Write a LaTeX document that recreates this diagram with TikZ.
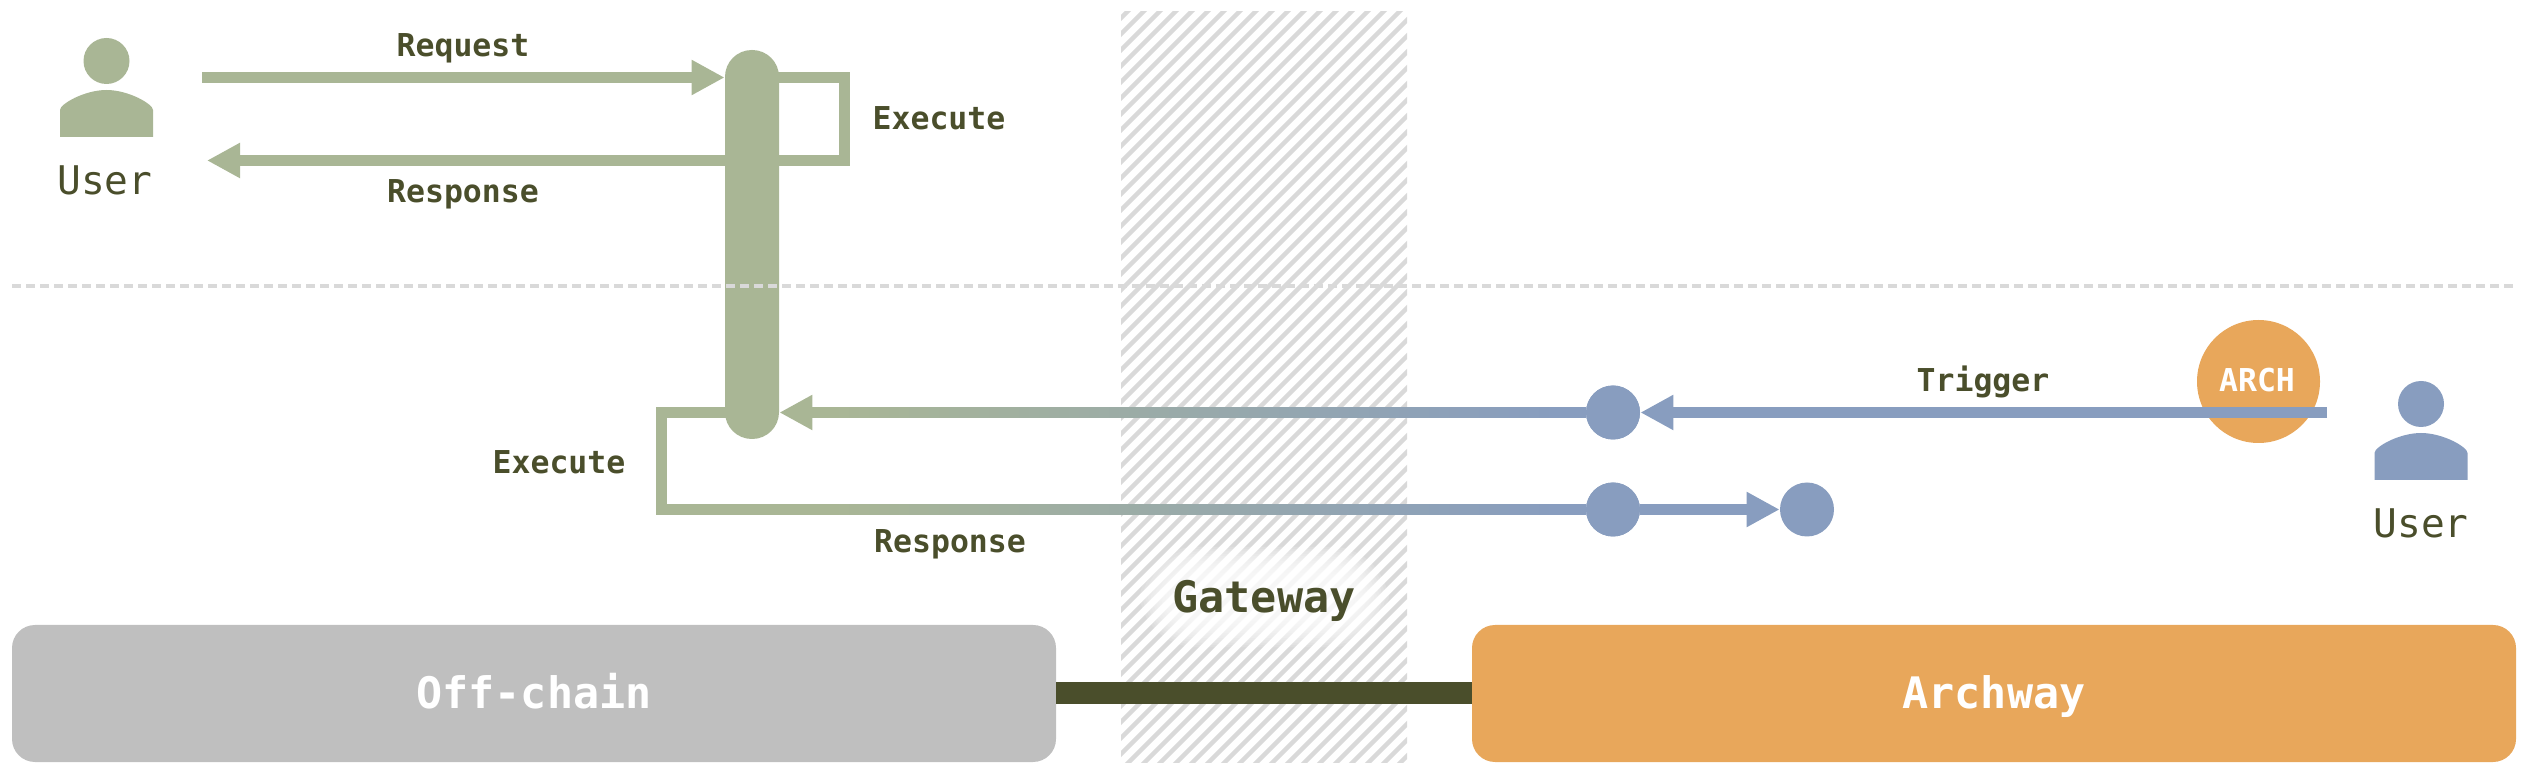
\documentclass[tikz,border=0pt]{standalone}
\usepackage{fontspec}
\setmainfont{DejaVu Sans Mono}
\usetikzlibrary{arrows.meta,calc}
\definecolor{grn}{HTML}{A9B695}
\definecolor{blu}{HTML}{889DBF}
\definecolor{org}{HTML}{E8A75B}
\definecolor{gry}{HTML}{BFBFBF}
\definecolor{lgry}{HTML}{D9D9D9}
\definecolor{dark}{HTML}{4A4E2B}
\tikzset{
  x=0.5pt,y=-0.5pt,
  lbl/.style={anchor=base,inner sep=0pt,text=dark,font=\fontsize{15.75}{18}\selectfont\bfseries},
  userlbl/.style={anchor=base,inner sep=0pt,text=dark,font=\fontsize{19.75}{22}\selectfont},
  biglbl/.style={anchor=base,inner sep=0pt,font=\fontsize{21.7}{24}\selectfont\bfseries},
  block/.style={rectangle,rounded corners=11.5pt,minimum width=522pt,minimum height=68.5pt,inner sep=0pt},
  conn/.style={line width=5.5pt,line join=miter,-{Triangle[length=16.5pt,width=16.5pt]}},
  wire/.style={line width=5.5pt,line join=miter},
  dot/.style={circle,fill=blu,minimum size=27pt,inner sep=0pt},
  person/.pic={
    \fill[pic actions] (0,-46) ellipse [x radius=23,y radius=23];
    \fill[pic actions] (-46.5,30) -- (-46.5,3) .. controls (-46.5,-3) and (-22,-17) .. (0,-17)
       .. controls (22,-17) and (46.5,-3) .. (46.5,3) -- (46.5,30) -- cycle;
  }
}
\begin{document}
\begin{tikzpicture}
\useasboundingbox (0,0) rectangle (2528,774);
% gateway hatch
\begin{scope}
  \clip (1121,12) rectangle (1407,762);
  \foreach \k in {0,...,65} {
    \draw[lgry,line width=2.2pt] ({1121+16*\k+2},0) -- ({1121+16*\k+2-800},800);
  }
\end{scope}
% glow
\foreach \g in {0,1,...,11} {
  \fill[white,opacity=0.15,rounded corners={(16+\g*1.2)*1pt}]
    ({1264-92-\g*3},{597-24-\g*2.4}) rectangle ({1264+92+\g*3},{597+24+\g*2.4});
}
% blocks
\node[block,fill=gry] (off) at (534,693.5) {};
\node[block,fill=org] (arch) at (1994,693.5) {};
\draw[dark,line width=11pt] (off.east) -- (arch.west);
\node[biglbl,text=white] (offt) at (534,708.5) {Off-chain};
\node[biglbl,text=white] (archt) at (1994,708.5) {Archway};
\node[biglbl,text=dark] (gate) at (1264,613) {Gateway};
% coin
\node[circle,fill=org,minimum size=61.5pt,inner sep=0pt] (coin) at (2258.5,381.5) {};
\node[lbl,text=white] (coint) at (2257,392) {ARCH};
% pillar
\node[rectangle,fill=grn,rounded corners=13.4pt,minimum width=27pt,minimum height=194.5pt,inner sep=0pt] (pillar) at (752,244.5) {};
% dashed divider
\draw[lgry,line width=2pt,dash pattern=on 4.6pt off 2.4pt] (12,286) coordinate (divL) -- (2516,286) coordinate (divR);
% dots
\node[dot] (d1) at (1613,412.5) {};
\node[dot] (d2) at (1613,509.5) {};
\node[dot] (d3) at (1807,509.5) {};
% users
\pic[fill=grn] (ul) at (106.5,107) {person};
\pic[fill=blu] (ur) at (2421,450) {person};
\coordinate (reqS) at (202,77.5);
\coordinate (respE) at (207,160.5);
\coordinate (trigS) at (2327,412.5);
% top connectors
\draw[conn,grn] (reqS) -- (reqS -| pillar.west);
\draw[conn,grn] (pillar.center |- reqS) -- (844,77.5) -- (844,160.5) -- (respE);
% trigger
\draw[conn,blu] (trigS) -- (d1.east);
% lower gradient connectors
\coordinate (g1) at (830,412.5);
\coordinate (g2) at (1560,412.5);
\coordinate (g3) at (830,509.5);
\coordinate (g4) at (1560,509.5);
\draw[conn,grn] (g1) -- (g1 -| pillar.east);
\draw[wire,blu] (g2) -- (d1);
\draw[wire,grn] (pillar.center |- g1) -- (661,412.5) -- (661,509.5) -- (g3);
\draw[wire,blu] (g4) -- (d2);
\foreach \s in {0,1,...,72} {
  \pgfmathsetmacro{\pc}{100*\s/72}
  \pgfmathsetmacro{\xa}{830+10*\s-1}
  \pgfmathsetmacro{\xb}{min(830+10*\s+11,1561)}
  \draw[wire,color=blu!\pc!grn] (\xa,412.5) -- (\xb,412.5);
  \draw[wire,color=blu!\pc!grn] (\xa,509.5) -- (\xb,509.5);
}
\draw[conn,blu] (d2) -- (d3.west);
\node[dot] (d1b) at (d1) {};
\node[dot] (d2b) at (d2) {};
% labels
\node[lbl] (l1) at (463,56.5) {Request};
\node[lbl] (l2) at (463,202.5) {Response};
\node[lbl] (l3) at (939,129.5) {Execute};
\node[lbl] (l4) at (559,474) {Execute};
\node[lbl] (l5) at (950,552.5) {Response};
\node[lbl] (l6) at (1983,391.5) {Trigger};
\node[userlbl] (u1) at (105,195) {User};
\node[userlbl] (u2) at (2421,538) {User};
\end{tikzpicture}
\end{document}
